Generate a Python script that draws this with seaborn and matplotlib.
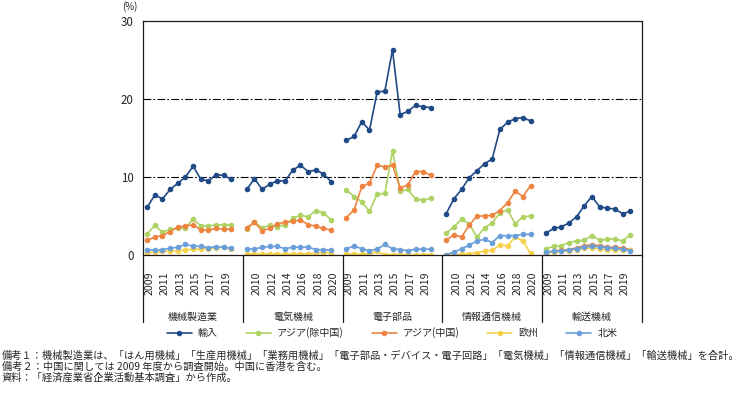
import numpy as np
import pandas as pd
import matplotlib
matplotlib.use("Agg")
import matplotlib.pyplot as plt
import matplotlib.transforms as mtransforms
from matplotlib.lines import Line2D
import seaborn as sns

# ---------------- data ----------------
groups = ["機械製造業", "電気機械", "電子部品", "情報通信機械", "輸送機械"]
years = list(range(2009, 2021))
series_names = ["輸入", "アジア(除中国)", "アジア(中国)", "欧州", "北米"]

imports = [6.1, 7.7, 7.2, 8.4, 9.2, 10.0, 11.4, 9.7, 9.5, 10.3, 10.2, 9.7,
           8.4, 9.8, 8.4, 9.1, 9.5, 9.5, 10.9, 11.5, 10.7, 10.9, 10.4, 9.4,
           14.7, 15.2, 17.1, 16.0, 20.9, 21.0, 26.3, 18.0, 18.4, 19.2, 19.0, 18.9,
           5.3, 7.2, 8.4, 9.9, 10.8, 11.7, 12.3, 16.1, 17.0, 17.5, 17.6, 17.2,
           2.8, 3.4, 3.6, 4.1, 4.9, 6.3, 7.5, 6.2, 6.0, 5.9, 5.3, 5.6]
asia_ex_china = [2.7, 3.8, 2.9, 3.3, 3.4, 3.5, 4.6, 3.7, 3.7, 3.9, 3.8, 3.9,
                 3.3, 4.2, 3.5, 3.8, 3.6, 3.9, 4.7, 5.1, 4.9, 5.7, 5.4, 4.5,
                 8.3, 7.5, 6.8, 5.6, 7.8, 7.9, 13.3, 8.2, 8.4, 7.2, 7.0, 7.3,
                 2.8, 3.6, 4.6, 4.0, 2.3, 3.5, 4.1, 5.4, 5.8, 4.0, 4.9, 5.0,
                 0.8, 1.1, 1.2, 1.6, 1.8, 1.9, 2.5, 1.9, 2.0, 2.1, 1.8, 2.6]
asia_china = [1.9, 2.3, 2.5, 3.0, 3.6, 3.7, 3.9, 3.2, 3.2, 3.4, 3.3, 3.3,
              3.5, 4.2, 3.1, 3.4, 4.0, 4.2, 4.3, 4.5, 3.9, 3.7, 3.4, 3.2,
              4.8, 5.8, 8.8, 9.2, 11.5, 11.3, 11.5, 8.6, 9.0, 10.7, 10.7, 10.2,
              1.9, 2.6, 2.3, 3.8, 5.0, 5.0, 5.1, 5.7, 6.7, 8.2, 7.5, 8.9,
              0.3, 0.5, 0.6, 0.7, 0.9, 1.2, 1.3, 1.2, 1.0, 1.0, 0.9, 0.7]
europe = [0.3, 0.35, 0.45, 0.5, 0.55, 0.65, 0.75, 0.75, 0.8, 0.9, 1.0, 0.8,
          0.15, 0.15, 0.1, 0.1, 0.1, 0.1, 0.1, 0.15, 0.15, 0.25, 0.3, 0.3,
          0.1, 0.1, 0.1, 0.1, 0.45, 0.05, 0.05, 0.05, 0.0, 0.0, 0.05, 0.05,
          0.0, 0.0, 0.1, 0.15, 0.3, 0.5, 0.6, 1.3, 1.2, 2.3, 1.8, 0.2,
          0.3, 0.35, 0.45, 0.55, 0.7, 0.85, 0.9, 0.8, 0.7, 0.7, 0.65, 0.6]
north_america = [0.7, 0.6, 0.7, 0.85, 1.0, 1.35, 1.15, 1.1, 0.95, 1.05, 1.0, 0.85,
                 0.8, 0.75, 1.0, 1.1, 1.1, 0.8, 1.0, 1.0, 1.0, 0.7, 0.65, 0.65,
                 0.8, 1.15, 0.8, 0.55, 0.75, 1.35, 0.8, 0.7, 0.55, 0.75, 0.75, 0.75,
                 0.05, 0.35, 0.8, 1.25, 1.8, 2.0, 1.6, 2.5, 2.45, 2.5, 2.65, 2.65,
                 0.4, 0.45, 0.55, 0.65, 0.8, 1.0, 1.15, 1.05, 0.95, 0.85, 0.75, 0.55]

colors = ["#1F4A86", "#AED364", "#EE8442", "#F6D24C", "#6B9FD9"]

notes = ["備考１：機械製造業は、「はん用機械」「生産用機械」「業務用機械」「電子部品・デバイス・電子回路」「電気機械」「情報通信機械」「輸送機械」を合計。",
         "備考２：中国に関しては 2009 年度から調査開始。中国に香港を含む。",
         "資料：「経済産業省企業活動基本調査」から作成。"]

# ---------------- build table ----------------
slots_per_group = len(years) + 1  # one blank slot after each group
all_values = [imports, asia_ex_china, asia_china, europe, north_america]
rows = []
for s_name, vals in zip(series_names, all_values):
    for g_i, g in enumerate(groups):
        for y_i, yr in enumerate(years):
            rows.append({"series": s_name, "group": g,
                         "pos": g_i * slots_per_group + y_i,
                         "year": yr,
                         "value": vals[g_i * len(years) + y_i]})
df = pd.DataFrame(rows)

# ---------------- style ----------------
sns.set_theme(style="white")
plt.rcParams["font.family"] = ["Noto Sans CJK JP", "DejaVu Sans"]

W, H = 739, 393
fig = plt.figure(figsize=(W / 100, H / 100), dpi=100)
x0, x1, ytop, ybot = 143.3, 641.7, 21.0, 255.0
ax = fig.add_axes([x0 / W, 1 - ybot / H, (x1 - x0) / W, (ybot - ytop) / H])

sns.lineplot(data=df, x="pos", y="value", hue="series", units="group",
             estimator=None, hue_order=series_names, palette=colors,
             marker="o", markersize=4.0, markeredgewidth=0, linewidth=1.2,
             sort=False, legend=False, ax=ax)

n_slots = slots_per_group * len(groups)
ax.set_xlim(-0.5, n_slots - 0.5)
ax.set_ylim(0, 30)

# gridlines
for yv in (10, 20):
    ax.axhline(yv, color="black", lw=0.8, linestyle=(0, (7, 2, 1.5, 2)), zorder=0)

for sp in ax.spines.values():
    sp.set_color("#231815")
    sp.set_linewidth(0.9)

ax.set_yticks([0, 10, 20, 30])
ax.set_yticklabels(["0", "10", "20", "30"], fontsize=8.3)
ax.tick_params(axis="y", length=0, pad=7)

# x tick labels: every other slot
tick_pos = list(range(0, n_slots, 2))
tick_lab = []
for p in tick_pos:
    g_i, y_i = divmod(p, slots_per_group)
    tick_lab.append(str(years[y_i]) if y_i < len(years) else "")
ax.set_xticks(tick_pos)
ax.set_xticklabels(tick_lab, rotation=90, fontsize=7.6, va="top", ha="center")
ax.tick_params(axis="x", length=0, pad=12)
offset = mtransforms.ScaledTranslation(2.5 / 100, 0, fig.dpi_scale_trans)
for lab in ax.get_xticklabels():
    lab.set_transform(lab.get_transform() + offset)
ax.set_xlabel("")
ax.set_ylabel("")

# group separators and labels
trans = mtransforms.blended_transform_factory(ax.transData, ax.transAxes)
sep_bottom = -(322 - ybot) / (ybot - ytop)
for g_i in range(len(groups) + 1):
    xb = g_i * slots_per_group - 0.5
    ax.plot([xb, xb], [0, sep_bottom], color="#231815", lw=0.9,
            transform=trans, clip_on=False)
label_y = -(316.5 - ybot) / (ybot - ytop)
for g_i, g in enumerate(groups):
    xc = g_i * slots_per_group + (slots_per_group - 1) / 2
    ax.text(xc, label_y, g, transform=trans, ha="center", va="center", fontsize=7.2)

fig.text(130 / W, 1 - 7 / H, "(%)", ha="center", va="center", fontsize=7)

# legend
handles = [Line2D([], [], color=c, marker="o", markersize=4.0, markeredgewidth=0, lw=1.2)
           for c in colors]
fig.legend(handles, series_names, loc="center", bbox_to_anchor=(392 / W, 1 - 333 / H),
           ncol=5, frameon=False, fontsize=7.2, handlelength=2.5, handletextpad=0.6,
           columnspacing=2.8, borderaxespad=0)

# notes
for i, (t, yy) in enumerate(zip(notes, [356, 367, 378])):
    fig.text(2 / W, 1 - yy / H, t, ha="left", va="center", fontsize=7.35)

fig.savefig("out.png", dpi=100)
